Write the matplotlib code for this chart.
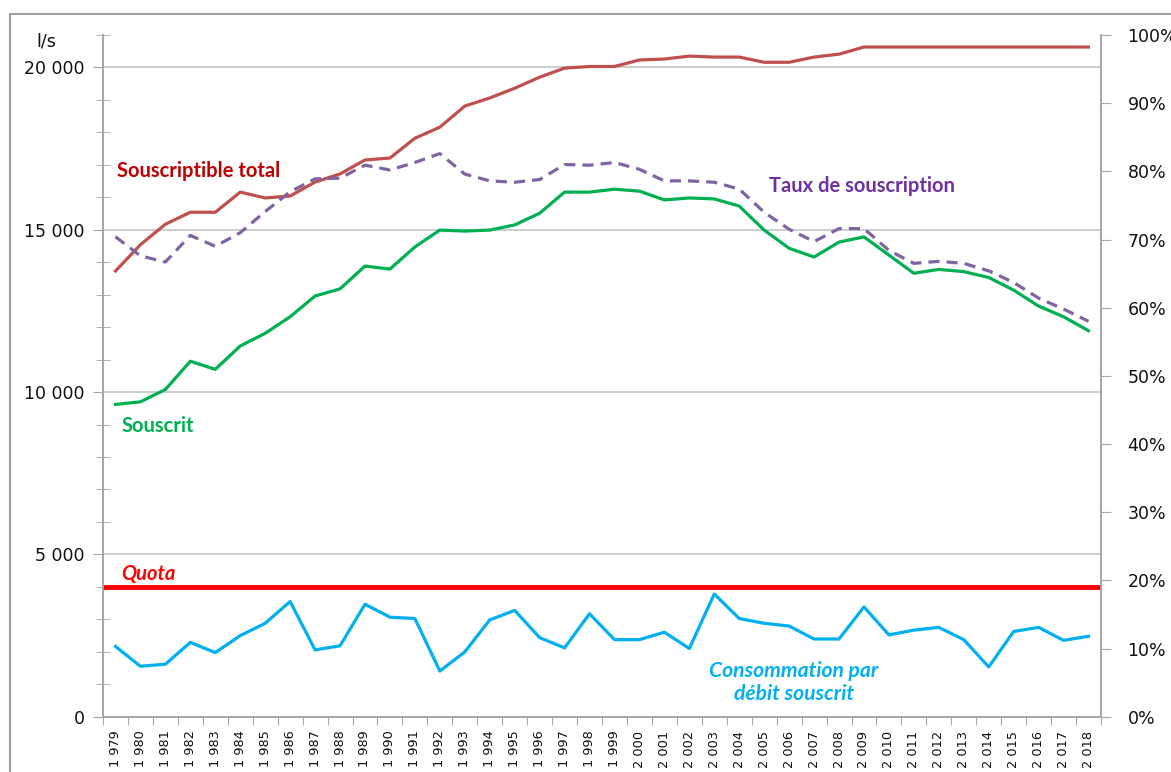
import numpy as np
import matplotlib
matplotlib.use("Agg")
import matplotlib.pyplot as plt
from matplotlib.patches import Rectangle
from matplotlib.ticker import FixedLocator, MultipleLocator, FuncFormatter

# data
years = list(range(1979, 2019))
souscriptible = [13730, 14540, 15170, 15540, 15540, 16160, 15980, 16040, 16470, 16720,
                 17150, 17210, 17820, 18160, 18810, 19060, 19360, 19700, 19980, 20030,
                 20030, 20230, 20260, 20350, 20320, 20320, 20160, 20160, 20320, 20410,
                 20630, 20630, 20630, 20630, 20630, 20630, 20630, 20630, 20630, 20630]
souscrit = [9620, 9700, 10080, 10950, 10700, 11420, 11810, 12320, 12960, 13180,
            13880, 13790, 14470, 14990, 14960, 14990, 15150, 15510, 16160, 16160,
            16250, 16190, 15920, 15980, 15950, 15730, 14990, 14430, 14160, 14620,
            14780, 14220, 13660, 13780, 13710, 13530, 13140, 12650, 12320, 11890]
taux = [70.4, 67.6, 66.7, 70.6, 69.0, 71.0, 74.1, 77.0, 78.9, 79.0,
        80.9, 80.2, 81.3, 82.6, 79.6, 78.6, 78.4, 78.8, 81.0, 80.9,
        81.3, 80.3, 78.6, 78.6, 78.4, 77.4, 74.0, 71.5, 69.7, 71.6,
        71.6, 68.4, 66.5, 66.8, 66.5, 65.4, 63.7, 61.4, 59.8, 58.0]
conso = [10.3, 7.4, 7.7, 10.9, 9.4, 11.9, 13.7, 16.9, 9.8, 10.4,
         16.5, 14.6, 14.4, 6.7, 9.5, 14.2, 15.6, 11.6, 10.1, 15.1,
         11.3, 11.3, 12.4, 10.0, 18.0, 14.4, 13.7, 13.3, 11.4, 11.4,
         16.1, 12.0, 12.7, 13.1, 11.3, 7.3, 12.5, 13.1, 11.2, 11.8]
quota = 3990
year_labels = [f"{y // 1000} {y % 1000:03d}" for y in years]

W, H = 1171, 772
fig = plt.figure(figsize=(W / 100, H / 100), dpi=100)
ax = fig.add_axes([103 / W, 1 - 716.7 / H, (1101 - 103) / W, (716.7 - 35) / H])
ax2 = ax.twinx()

# frame around the chart (cut by the image edges)
fig.patches.append(Rectangle((10 / W, -0.2), 2, 1 - 14 / H + 0.2, transform=fig.transFigure,
                             fill=False, edgecolor="#8C8C8C", lw=1.2))

x = np.arange(len(years))
grey = "#A6A6A6"

ax.plot(x, souscriptible, color="#C0504D", lw=2.3, zorder=4)
ax.plot(x, souscrit, color="#00B050", lw=2.3, zorder=4)
ax.axhline(quota, color="#FF0000", lw=3.5, zorder=4)
ax2.plot(x, taux, color="#8064A2", lw=2.3, dashes=(3.5, 2.2), zorder=4)
ax2.plot(x, conso, color="#00B0F0", lw=2.3, zorder=4)

ax.set_xlim(-0.5, len(years) - 0.5)
ax.set_ylim(0, 21000)
ax2.set_ylim(0, 100)

# left axis
ax.yaxis.set_major_locator(FixedLocator([0, 5000, 10000, 15000, 20000]))
ax.yaxis.set_major_formatter(FuncFormatter(lambda v, p: f"{int(v):,}".replace(",", " ")))
ax.yaxis.set_minor_locator(MultipleLocator(1000))
ax.tick_params(axis="y", which="major", direction="out", length=7, color=grey,
               labelsize=12.5, pad=6, labelcolor="#111111")
ax.tick_params(axis="y", which="minor", direction="inout", length=10, color=grey)
ax.grid(axis="y", which="major", color="#C0C0C0", lw=1.1, zorder=0)

# x axis: ticks between categories, labels centred
ax.xaxis.set_major_locator(FixedLocator(np.arange(-0.5, len(years), 1.0)))
ax.xaxis.set_major_formatter(FuncFormatter(lambda v, p: ""))
ax.xaxis.set_minor_locator(FixedLocator(x))
ax.set_xticklabels(year_labels, minor=True, rotation=90, fontsize=9.3, va="top")
ax.tick_params(axis="x", which="major", direction="out", length=6, color=grey)
ax.tick_params(axis="x", which="minor", length=0, pad=10, labelcolor="#111111")

# right axis
ax2.yaxis.set_major_locator(MultipleLocator(10))
ax2.yaxis.set_major_formatter(FuncFormatter(lambda v, p: f"{int(v)}%"))
ax2.tick_params(axis="y", direction="out", length=7, color=grey, labelsize=12.5,
                pad=12, labelcolor="#111111")

for a in (ax, ax2):
    a.spines["top"].set_visible(False)
    for s in ("left", "right", "bottom"):
        a.spines[s].set_color(grey)
        a.spines[s].set_linewidth(1.2)

fig.text(36 / W, 1 - 41 / H, "l/s", fontsize=12.5, va="center", ha="left", color="#111111")

# series labels
lab = dict(family="Lato", fontweight="bold", fontsize=14.5, va="center", ha="left", zorder=6)
ax.text(0.06, 16810, "Souscriptible total", color="#C00000", **lab)
ax.text(0.26, 8950, "Souscrit", color="#00B050", **lab)
ax.text(26.2, 16340, "Taux de souscription", color="#7030A0", **lab)
ax.text(0.22, 4395, "Quota", color="#FF0000", style="italic", **lab)
ax.text(27.2, 1050, "Consommation par\ndébit souscrit", color="#00B0F0", style="italic",
        family="Lato", fontweight="bold", fontsize=15.2, va="center", ha="center",
        linespacing=1.2, zorder=6)

fig.savefig("out.png", dpi=100)
